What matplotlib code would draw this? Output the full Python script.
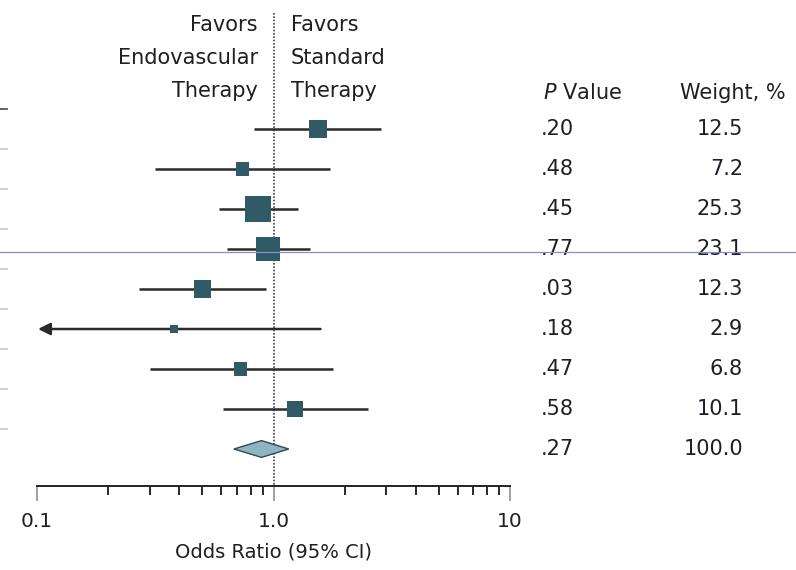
import numpy as np
import matplotlib
matplotlib.use('Agg')
import matplotlib.pyplot as plt
from matplotlib.lines import Line2D
from matplotlib.transforms import blended_transform_factory

# study-level estimates (odds ratio with 95% CI); pooled estimate kept separately
odds_ratio = [1.54, 0.74, 0.86, 0.95, 0.50, 0.38, 0.725, 1.23]
ci_lower = [0.83, 0.314, 0.59, 0.633, 0.27, 0.05, 0.30, 0.61]
ci_upper = [2.86, 1.74, 1.27, 1.43, 0.93, 1.58, 1.78, 2.50]
p_values = ['.20', '.48', '.45', '.77', '.03', '.18', '.47', '.58']
weights = [12.5, 7.2, 25.3, 23.1, 12.3, 2.9, 6.8, 10.1]

pooled_or = 0.89
pooled_lower = 0.68
pooled_upper = 1.16
pooled_p = '.27'
pooled_weight = 100.0

plt.rcParams['font.family'] = ['DejaVu Sans']

W, H = 796, 570
fig = plt.figure(figsize=(W / 100, H / 100), dpi=100)

def fx(px):
    return px / W

def fy(py):
    return 1 - py / H

ax = fig.add_axes([fx(37), fy(486), fx(510) - fx(37), fy(0) - fy(486)])
ax.set_xscale('log')
ax.set_xlim(0.1, 10)
ax.set_ylim(8.925, -3.225)

box_color = '#2f5a66'
line_color = '#2a2a2a'
text_color = '#1e1e28'

n = len(odds_ratio)
rows = np.arange(n)

# confidence intervals
for i in range(n):
    if ci_lower[i] < 0.1:
        ax.annotate('', xy=(0.101, rows[i]), xytext=(ci_upper[i], rows[i]),
                    arrowprops=dict(arrowstyle='-|>', color=line_color, lw=1.8,
                                    mutation_scale=18, shrinkA=0, shrinkB=0))
    else:
        ax.plot([ci_lower[i], ci_upper[i]], [rows[i], rows[i]],
                color=line_color, lw=1.8, solid_capstyle='butt', zorder=2)

# point estimates, marker area proportional to weight
ax.scatter(odds_ratio, rows, s=[13 * w for w in weights], marker='s',
           color=box_color, zorder=3, linewidths=0)

# pooled diamond
yd = n
half_h = 0.21
ax.fill([pooled_lower, pooled_or, pooled_upper, pooled_or],
        [yd, yd - half_h, yd, yd + half_h],
        facecolor='#8fb4c2', edgecolor='#2f4a55', lw=1.0, zorder=3)

# line of no effect
ax.plot([1.0, 1.0], [-2.9, 8.925], color='#444444', lw=1.2, ls=(0, (1, 1)),
        zorder=1, clip_on=False)

# axis styling
for s in ['top', 'right', 'left']:
    ax.spines[s].set_visible(False)
ax.spines['bottom'].set_color('#222222')
ax.spines['bottom'].set_linewidth(1.4)
ax.set_yticks([])
ax.set_xticks([0.1, 1, 10])
ax.set_xticklabels(['0.1', '1.0', '10'])
ax.tick_params(axis='x', which='major', length=11, width=1.3, color='#9a9a9a',
               labelsize=14.5, labelcolor=text_color, pad=8)
ax.tick_params(axis='x', which='minor', length=6.5, width=1.4, color='#2a2a2a')
ax.set_xlabel('Odds Ratio (95% CI)', fontsize=14, color=text_color, labelpad=8)

# header annotations
hdr_kw = dict(fontsize=15, color=text_color)
for k, (l, r) in enumerate([('Favors', 'Favors'), ('Endovascular', 'Standard'),
                             ('Therapy', 'Therapy')]):
    y = fy(25 + 33 * k)
    fig.text(fx(258), y, l, ha='right', va='center', **hdr_kw)
    fig.text(fx(291), y, r, ha='left', va='center', **hdr_kw)

# right-hand table
fig.text(fx(543), fy(93), '$\\it{P}$ Value', ha='left', va='center', **hdr_kw)
fig.text(fx(786), fy(93), 'Weight, %', ha='right', va='center', **hdr_kw)

tr = blended_transform_factory(fig.transFigure, ax.transData)
tbl_p = p_values + [pooled_p]
tbl_w = weights + [pooled_weight]
for i in range(n + 1):
    ax.text(fx(541), i, tbl_p[i], transform=tr, ha='left', va='center', **hdr_kw)
    ax.text(fx(743), i, '%.1f' % tbl_w[i], transform=tr, ha='right', va='center',
            **hdr_kw)

# row separators of the cropped left panel
for i in range(n + 1):
    c = '#555555' if i == 0 else '#d6cdbd'
    ax.add_line(Line2D([0, fx(7)], [i - 0.5, i - 0.5], transform=tr,
                       color=c, lw=1.3, clip_on=False))

fig.add_artist(Line2D([0, 1], [fy(252), fy(252)], color='#8a8ad8', lw=0.9))

fig.savefig('out.png', dpi=100)
